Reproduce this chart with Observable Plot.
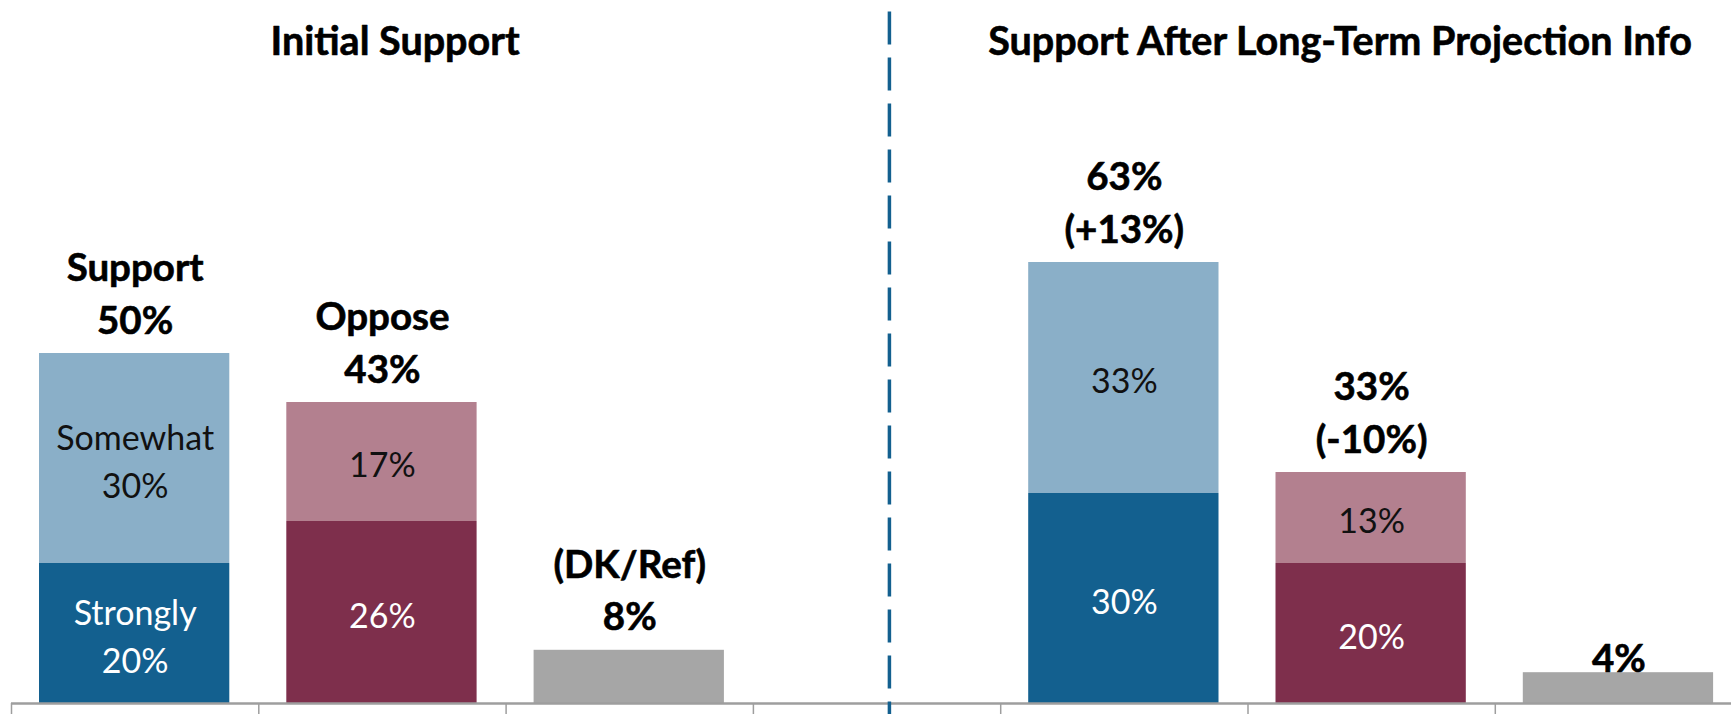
<!DOCTYPE html>
<html>
<head>
<meta charset="utf-8">
<script src="https://cdn.jsdelivr.net/npm/d3@7"></script>
<script src="https://cdn.jsdelivr.net/npm/@observablehq/plot@0.6"></script>
<style>
  html, body { margin: 0; padding: 0; background: #fff; }
  #chart svg { display: block; }
</style>
</head>
<body>
<div id="chart"></div>
<script>
// ---- data ----
const panelTitles = ["Initial Support", "Support After Long-Term Projection Info"];
// slot index of each bar along the axis (slot 3 is the empty gap with the divider)
const slots = [0, 1, 2, 4, 5, 6];
const kinds = ["support", "oppose", "dk", "support", "oppose", "dk"];
const stronglyValues = [20, 26, 7.6, 30, 20, 4.4];   // lower segment (dk = whole bar)
const somewhatValues = [30, 17, 0, 33, 13, 0];        // upper segment
const lowerLabels = ["Strongly\n20%", "26%", "", "30%", "20%", ""];
const upperLabels = ["Somewhat\n30%", "17%", "", "33%", "13%", ""];
const totalLabels = ["Support\n50%", "Oppose\n43%", "(DK/Ref)\n8%", "63%\n(+13%)", "33%\n(-10%)", "4%"];
const slotCount = 7;
const dividerSlot = 3.55;

// ---- styles ----
const lowerColor = {support: "#13608F", oppose: "#7E2F4C", dk: "#A6A6A6"};
const upperColor = {support: "#8AAFC8", oppose: "#B3808F", dk: "#A6A6A6"};
const lowerText = {support: "#ffffff", oppose: "#ffffff", dk: "#000000"};
const upperText = {support: "#111111", oppose: "#111111", dk: "#000000"};

const segments = [];
slots.forEach((s, i) => {
  const k = kinds[i];
  segments.push({slot: s, y1: 0, y2: stronglyValues[i], fill: lowerColor[k], tfill: lowerText[k], label: lowerLabels[i]});
  if (somewhatValues[i] > 0)
    segments.push({slot: s, y1: stronglyValues[i], y2: stronglyValues[i] + somewhatValues[i], fill: upperColor[k], tfill: upperText[k], label: upperLabels[i]});
});
const totals = slots.map((s, i) => ({slot: s, total: stronglyValues[i] + somewhatValues[i], label: totalLabels[i], small: somewhatValues[i] === 0 && stronglyValues[i] < 5}));

const FONT = "Lato, 'Open Sans', sans-serif";
const boldStyle = {fontWeight: "bold", fill: "#000", stroke: "#000", strokeWidth: 0.6, fontFamily: FONT};

const chart = Plot.plot({
  width: 1731,
  height: 714,
  marginTop: 3,
  marginBottom: 11,
  marginLeft: 11,
  marginRight: 0,
  style: {fontFamily: FONT, background: "#fff", overflow: "visible"},
  x: {type: "linear", domain: [0, slotCount], range: [11, 11 + slotCount * 247.3]},
  y: {domain: [0, 100], axis: null},
  marks: [
    Plot.rectY(segments, {
      x1: d => d.slot, x2: d => d.slot + 1, y1: "y1", y2: "y2",
      fill: d => d.fill, insetLeft: 28, insetRight: 29
    }),
    Plot.text(segments.filter(d => d.label), {
      x: d => d.slot + 0.5, y: d => (d.y1 + d.y2) / 2, text: "label",
      fill: d => d.tfill, fontSize: 34, lineHeight: 1.4, lineAnchor: "middle",
      fontFamily: FONT
    }),
    Plot.text(totals.filter(d => !d.small), {
      x: d => d.slot + 0.5, y: "total", text: "label",
      fontSize: 38.5, lineHeight: 1.36, lineAnchor: "bottom",
      dy: -20, ...boldStyle
    }),
    Plot.text(totals.filter(d => d.small), {
      x: d => d.slot + 0.5, y: "total", text: "label",
      fontSize: 38.5, lineAnchor: "bottom",
      dy: -1, ...boldStyle
    }),
    Plot.text(panelTitles, {
      x: (d, i) => [1.551, 5.372][i], frameAnchor: "top", text: d => d,
      dy: 39, lineAnchor: "middle", fontSize: 39.5, ...boldStyle
    }),
    Plot.ruleY([0], {stroke: "#9E9E9E", strokeWidth: 2.5}),
    Plot.axisX({
      ticks: d3.range(0, slotCount + 1), tickSize: 11, tickFormat: () => "",
      stroke: "#9E9E9E", strokeWidth: 1.5, tickPadding: 0
    }),
    Plot.ruleX([dividerSlot], {
      y1: 98.8, y2: -1.6, stroke: "#13608F", strokeWidth: 3.5,
      strokeDasharray: "33,13", clip: false
    })
  ]
});
document.getElementById("chart").appendChild(chart);
</script>
</body>
</html>
